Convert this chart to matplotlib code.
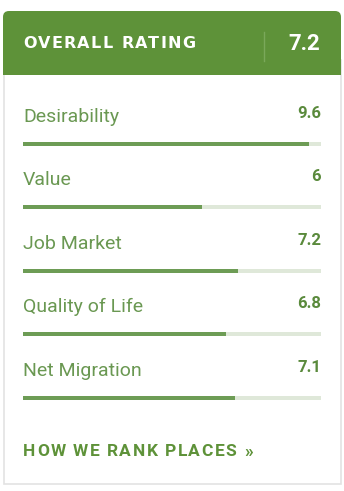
import matplotlib
matplotlib.use("Agg")
import matplotlib.pyplot as plt
from matplotlib.patches import FancyBboxPatch, Rectangle

# data
overall_label = "OVERALL RATING"
overall_score = 7.2
categories = ["Desirability", "Value", "Job Market", "Quality of Life", "Net Migration"]
scores = [9.6, 6, 7.2, 6.8, 7.1]
max_score = 10
link_text = "HOW WE RANK PLACES \u00bb"

HEADER = "#5e9239"
FILL = "#6d9c55"
TRACK = "#dfe8d9"
LABEL = "#6a9852"
VALUE = "#5a8a3c"
BORDER = "#e3e3e3"

W, H = 344, 491
fig = plt.figure(figsize=(W / 100, H / 100), dpi=100)
ax = fig.add_axes([0, 0, 1, 1])
ax.set_xlim(0, W)
ax.set_ylim(H, 0)
ax.axis("off")


def spaced_text(x, y, s, spacing, **kw):
    # matplotlib has no letter-spacing, so place characters one by one
    r = fig.canvas.get_renderer()
    for ch in s:
        t = ax.text(x, y, ch, va="center", ha="left", **kw)
        bb = t.get_window_extent(renderer=r)
        x += bb.width + spacing


# card outline
ax.add_patch(Rectangle((3.5, 60), 337, 423.5, fill=False, edgecolor=BORDER, lw=1.2))

# header with rounded top
ax.add_patch(FancyBboxPatch((3, 11), 338, 40, boxstyle="round,pad=0,rounding_size=6",
                            facecolor=HEADER, edgecolor="none"))
ax.add_patch(Rectangle((3, 30), 338, 45, facecolor=HEADER, edgecolor="none"))
ax.plot([264, 264], [32, 61], color="#7aa85a", lw=1)
spaced_text(23, 43, overall_label, 1.3, fontsize=11.5, fontweight="bold",
            color="white", family="DejaVu Sans")
ax.text(320, 44, f"{overall_score}", ha="right", va="center", fontsize=16,
        color="white", family="Roboto", fontweight="bold")

# rating bars
bar_ax = fig.add_axes([23 / W, 0, 298 / W, 1])
bar_ax.set_xlim(0, max_score)
bar_ax.set_ylim(H, 0)
bar_ax.axis("off")
ys = [143.5 + 63.5 * i for i in range(len(categories))]
bar_ax.barh(ys, [max_score] * len(scores), height=4, color=TRACK)
bar_ax.barh(ys, scores, height=4, color=FILL)

for y, cat, sc in zip(ys, categories, scores):
    ax.text(23, y - 27, cat, ha="left", va="center", fontsize=14,
            color=LABEL, family="Roboto")
    ax.text(321, y - 30.5, f"{sc:g}", ha="right", va="center", fontsize=12,
            color=VALUE, family="Roboto", fontweight="bold")

spaced_text(23, 452, link_text, 1.5, fontsize=12.5, fontweight="bold",
            color=HEADER, family="Roboto")

fig.savefig("out.png", dpi=100)
